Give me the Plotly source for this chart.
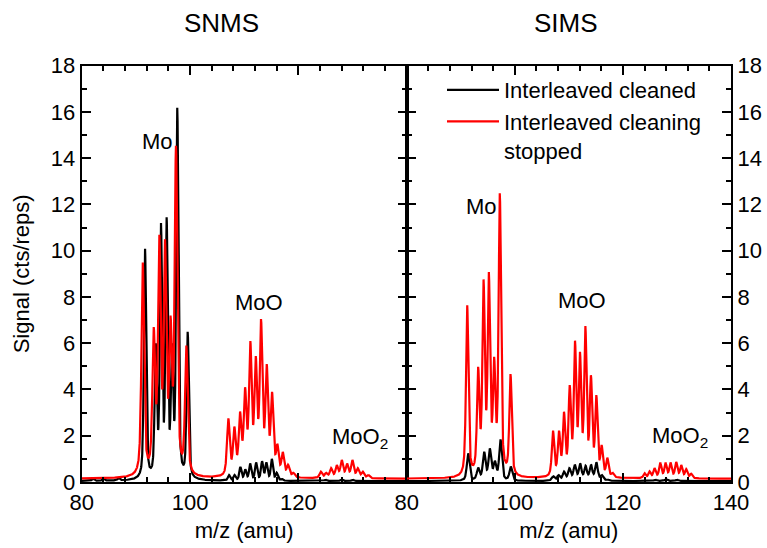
import numpy as np
import plotly.graph_objects as go

# ---------------- data ----------------
# SNMS panel, "Interleaved cleaned" (black): peak positions (m/z) and apex signal (cts/reps)
snms_cleaned_mz = [82.1, 84.0, 86.8,
                   91.69, 93.67, 94.64, 95.68, 96.67, 97.65, 99.57,
                   107.2, 108.2, 109.3, 110.2, 111.1, 112.2, 113.3, 114.1, 115.1, 116.0, 116.9,
                   125.0, 128.0, 130.0]
snms_cleaned_sig = [0.15, 0.15, 0.18,
                    10.1, 6.0, 11.2, 11.45, 6.0, 16.2, 6.5,
                    0.3, 0.3, 0.65, 0.55, 0.8, 0.85, 0.9, 0.85, 1.0, 0.4, 0.15,
                    0.1, 0.12, 0.1]

# SNMS panel, "Interleaved cleaning stopped" (red)
snms_stopped_mz = [91.27, 93.3, 94.33, 95.38, 96.4, 97.41, 99.32,
                   107.07, 108.18, 109.23, 110.16, 111.13, 112.13, 113.11, 114.16, 115.14, 116.12, 117.12,
                   118.1, 119.1,
                   124.14, 125.12, 126.04, 127.09, 128.01, 128.99, 129.97, 130.97, 131.89, 132.93]
snms_stopped_sig = [9.5, 6.7, 10.7, 10.5, 7.2, 14.55, 5.9,
                    2.75, 2.4, 3.05, 4.1, 6.1, 5.45, 7.05, 5.1, 3.9, 1.65, 1.3,
                    0.75, 0.4,
                    0.45, 0.4, 0.6, 0.73, 0.95, 0.8, 0.95, 0.6, 0.45, 0.3]

# SIMS panel, "Interleaved cleaned" (black)
sims_cleaned_mz = [91.38, 93.22, 94.33, 95.38, 96.31, 97.36, 99.26,
                   107.1, 108.1, 109.1, 110.1, 111.1, 112.1, 113.1, 114.1, 115.1, 116.1, 117.1,
                   126.0, 128.0, 130.0]
sims_cleaned_sig = [1.24, 0.62, 1.31, 1.45, 0.92, 1.84, 0.67,
                    0.25, 0.3, 0.45, 0.6, 0.75, 0.8, 0.7, 0.75, 0.85, 0.3, 0.12,
                    0.1, 0.12, 0.1]

# SIMS panel, "Interleaved cleaning stopped" (red)
sims_stopped_mz = [91.19, 93.22, 94.22, 95.2, 96.18, 97.23, 99.21,
                   107.07, 108.18, 109.1, 110.16, 111.14, 112.06, 113.06, 114.09, 115.09, 116.07, 117.12,
                   118.1,
                   124.0, 124.93, 125.85, 126.91, 127.89, 128.81, 129.86, 130.79, 131.71, 132.63]
sims_stopped_sig = [7.65, 4.98, 8.76, 9.08, 5.41, 12.5, 4.67,
                    2.22, 2.22, 3.04, 4.19, 6.11, 5.63, 6.74, 4.62, 3.76, 1.6, 1.05,
                    0.4,
                    0.38, 0.46, 0.6, 0.84, 0.84, 0.84, 0.87, 0.73, 0.56, 0.36]

series_names = ["Interleaved cleaned", "Interleaved cleaning<br>stopped"]
panel_titles = ["SNMS", "SIMS"]
left_xticks = [80, 100, 120]
right_xticks = [80, 100, 120, 140]
y_ticks = [0, 2, 4, 6, 8, 10, 12, 14, 16, 18]
x_title = "m/z (amu)"
y_title = "Signal (cts/reps)"

# ---------------- spectrum rendering (instrument peak shape) ----------------
mz_grid = np.arange(80.0, 140.0001, 0.02)


def profile(dx, fwhm, eta):
    lor = 1.0 / (1.0 + (2.0 * dx / fwhm) ** 2)
    gau = np.exp(-4.0 * np.log(2.0) * (dx / fwhm) ** 2)
    return eta * lor + (1.0 - eta) * gau


def spectrum(mz, sig, base, fwhm, eta):
    p = np.asarray(mz, float)
    h = np.asarray(sig, float) - base
    A = profile(p[:, None] - p[None, :], fwhm, eta)
    amp = np.clip(np.linalg.solve(A, h), 0, None)
    y = base + (amp[None, :] * profile(mz_grid[:, None] - p[None, :], fwhm, eta)).sum(axis=1)
    return y


snms_black = spectrum(snms_cleaned_mz, snms_cleaned_sig, 0.04, 0.48, 0.5)
snms_red = spectrum(snms_stopped_mz, snms_stopped_sig, 0.14, 0.58, 0.6)
sims_black = spectrum(sims_cleaned_mz, sims_cleaned_sig, 0.04, 0.6, 0.5)
sims_red = spectrum(sims_stopped_mz, sims_stopped_sig, 0.14, 0.52, 0.6)

BLACK = "#000000"
RED = "#FF0000"
FONT = "Liberation Sans, Arial, Helvetica, sans-serif"
LW = 2.2

fig = go.Figure()
fig.add_trace(go.Scatter(x=mz_grid, y=snms_black, mode="lines", name=series_names[0],
                         line=dict(color=BLACK, width=LW), xaxis="x", yaxis="y"))
fig.add_trace(go.Scatter(x=mz_grid, y=snms_red, mode="lines", name=series_names[1],
                         line=dict(color=RED, width=LW), xaxis="x", yaxis="y"))
fig.add_trace(go.Scatter(x=mz_grid, y=sims_black, mode="lines", name=series_names[0],
                         line=dict(color=BLACK, width=LW), showlegend=False,
                         xaxis="x2", yaxis="y2"))
fig.add_trace(go.Scatter(x=mz_grid, y=sims_red, mode="lines", name=series_names[1],
                         line=dict(color=RED, width=LW), showlegend=False,
                         xaxis="x2", yaxis="y2"))

W, H = 767, 548
xl0, xl1, xr1 = 81.7 / W, 406.7 / W, 731.0 / W
y0, y1 = 1 - 482.0 / H, 1 - 65.7 / H

tickfont = dict(family=FONT, size=22, color=BLACK)
common_x = dict(range=[80, 140], tickmode="array", ticks="inside", ticklen=9, tickwidth=2,
                tickcolor=BLACK, showline=True, linewidth=2, linecolor=BLACK, mirror="ticks",
                showgrid=False, zeroline=False, automargin=False,
                minor=dict(ticks="inside", dtick=4, tick0=80, ticklen=5, tickwidth=2,
                           tickcolor=BLACK, showgrid=False),
                tickfont=tickfont,
                title=dict(text=x_title, font=dict(family=FONT, size=22, color=BLACK), standoff=8))
common_y = dict(range=[0, 18], tickmode="array", tickvals=y_ticks, ticks="inside", ticklen=9,
                tickwidth=2, tickcolor=BLACK, showline=True, linewidth=2, linecolor=BLACK,
                mirror="ticks", showgrid=False, zeroline=False, automargin=False,
                minor=dict(ticks="inside", dtick=1, tick0=0, ticklen=5, tickwidth=2,
                           tickcolor=BLACK, showgrid=False),
                tickfont=tickfont)

fig.update_layout(
    width=W, height=H,
    margin=dict(l=0, r=0, t=0, b=0, autoexpand=False),
    paper_bgcolor="white", plot_bgcolor="white",
    font=dict(family=FONT, size=22, color=BLACK),
    xaxis=dict(common_x, tickvals=left_xticks, domain=[xl0, xl1], anchor="y"),
    xaxis2=dict(common_x, tickvals=right_xticks, domain=[xl1, xr1], anchor="y2"),
    yaxis=dict(common_y, domain=[y0, y1], anchor="x",
               title=dict(text=y_title, font=dict(family=FONT, size=22, color=BLACK), standoff=15)),
    yaxis2=dict(common_y, domain=[y0, y1], anchor="x2", side="right"),
    showlegend=True,
    legend=dict(x=442 / W, y=1 - 69 / H, xanchor="left", yanchor="top",
                bgcolor="rgba(0,0,0,0)", borderwidth=0, itemwidth=52, valign="top",
                font=dict(family=FONT, size=22, color=BLACK), tracegroupgap=0),
    annotations=[
        dict(text=panel_titles[0], x=222 / W, y=1 - 23 / H, xref="paper", yref="paper",
             xanchor="center", yanchor="middle",
             showarrow=False, font=dict(family=FONT, size=26, color=BLACK)),
        dict(text=panel_titles[1], x=566 / W, y=1 - 23 / H, xref="paper", yref="paper",
             xanchor="center", yanchor="middle",
             showarrow=False, font=dict(family=FONT, size=26, color=BLACK)),
        dict(text="Mo", x=94.0, y=14.73, xref="x", yref="y", showarrow=False),
        dict(text="MoO", x=112.74, y=7.78, xref="x", yref="y", showarrow=False),
        dict(text="MoO<sub>2</sub>", x=125.85, y=1.9, xref="x", yref="y", showarrow=False,
             xanchor="left"),
        dict(text="Mo", x=93.81, y=11.92, xref="x2", yref="y2", showarrow=False),
        dict(text="MoO", x=112.52, y=7.84, xref="x2", yref="y2", showarrow=False),
        dict(text="MoO<sub>2</sub>", x=124.93, y=1.95, xref="x2", yref="y2", showarrow=False,
             xanchor="left"),
    ],
)

fig.write_html("out.html")
